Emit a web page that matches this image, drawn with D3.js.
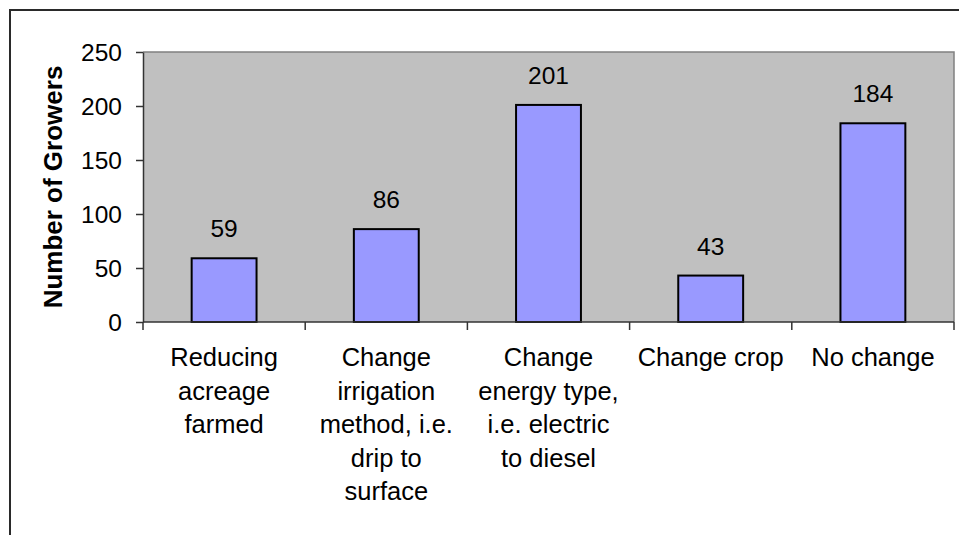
<!DOCTYPE html>
<html>
<head>
<meta charset="utf-8">
<script src="https://cdn.jsdelivr.net/npm/d3@7"></script>
<style>
  html, body { margin: 0; padding: 0; background: #fff; }
  svg { display: block; }
  text { font-family: "Liberation Sans", Arial, sans-serif; fill: #000; }
</style>
</head>
<body>
<svg id="chart" width="959" height="535"></svg>
<script>
// Category labels, already broken into display lines
const categories = [
  ["Reducing", "acreage", "farmed"],
  ["Change", "irrigation", "method, i.e.", "drip to", "surface"],
  ["Change", "energy type,", "i.e. electric", "to diesel"],
  ["Change crop"],
  ["No change"]
];
const growers = [59, 86, 201, 43, 184];
const yTicks = [0, 50, 100, 150, 200, 250];
const yTitle = "Number of Growers";

const svg = d3.select("#chart");

// outer chart frame (runs past the right and bottom edges)
svg.append("rect")
  .attr("x", 10).attr("y", 10)
  .attr("width", 970).attr("height", 560)
  .attr("fill", "#fff").attr("stroke", "#2a2a2a").attr("stroke-width", 2);

const plot = { left: 143, top: 52, right: 954, bottom: 322 };

const x = d3.scaleBand()
  .domain(d3.range(categories.length))
  .range([plot.left, plot.right])
  .paddingInner(0).paddingOuter(0);

const y = d3.scaleLinear().domain([0, 250]).range([plot.bottom, plot.top]);

// plot background
svg.append("rect")
  .attr("x", plot.left).attr("y", plot.top)
  .attr("width", plot.right - plot.left).attr("height", plot.bottom - plot.top)
  .attr("fill", "#c0c0c0");

// top & right border of plot area
svg.append("path")
  .attr("d", `M${plot.left},${plot.top}H${plot.right}V${plot.bottom}`)
  .attr("fill", "none").attr("stroke", "#808080").attr("stroke-width", 1.5);

// bars
const barW = x.bandwidth() * 0.4;
svg.append("g").selectAll("rect")
  .data(growers)
  .join("rect")
  .attr("x", (d, i) => x(i) + (x.bandwidth() - barW) / 2)
  .attr("y", d => y(d))
  .attr("width", barW)
  .attr("height", d => y(0) - y(d))
  .attr("fill", "#9999ff")
  .attr("stroke", "#000")
  .attr("stroke-width", 2);

// value labels
svg.append("g").selectAll("text")
  .data(growers)
  .join("text")
  .attr("x", (d, i) => x(i) + x.bandwidth() / 2)
  .attr("y", d => y(d) - 21)
  .attr("text-anchor", "middle")
  .attr("font-size", 24.5)
  .text(d => d);

// y axis
const yAxis = d3.axisLeft(y).tickValues(yTicks).tickSize(7).tickPadding(14).tickSizeOuter(0);
const gy = svg.append("g").attr("transform", `translate(${plot.left},0)`).call(yAxis);
gy.select(".domain").attr("stroke", "#333").attr("stroke-width", 1.5);
gy.selectAll(".tick line").attr("stroke", "#333").attr("stroke-width", 1.5);
gy.selectAll(".tick text").attr("font-size", 24.5).attr("font-family", "Liberation Sans, Arial, sans-serif").attr("fill", "#000").attr("dy", "0.36em");

// x axis baseline with ticks at category boundaries
const gx = svg.append("g");
gx.append("line")
  .attr("x1", plot.left).attr("x2", plot.right)
  .attr("y1", plot.bottom).attr("y2", plot.bottom)
  .attr("stroke", "#333").attr("stroke-width", 1.5);
gx.selectAll("line.tk")
  .data(d3.range(categories.length + 1))
  .join("line")
  .attr("class", "tk")
  .attr("x1", i => i < categories.length ? x(i) : plot.right)
  .attr("x2", i => i < categories.length ? x(i) : plot.right)
  .attr("y1", plot.bottom).attr("y2", plot.bottom + 8)
  .attr("stroke", "#333").attr("stroke-width", 1.5);

// category labels
const lineH = 33.5;
gx.selectAll("text.cat")
  .data(categories)
  .join("text")
  .attr("class", "cat")
  .attr("text-anchor", "middle")
  .attr("font-size", 25.5)
  .each(function(lines, i) {
    const t = d3.select(this);
    lines.forEach((ln, j) => {
      t.append("tspan")
        .attr("x", x(i) + x.bandwidth() / 2)
        .attr("y", 366 + j * lineH)
        .text(ln);
    });
  });

// y axis title
svg.append("text")
  .attr("transform", `translate(62,${(plot.top + plot.bottom) / 2}) rotate(-90)`)
  .attr("text-anchor", "middle")
  .attr("font-size", 26)
  .attr("font-weight", "bold")
  .text(yTitle);
</script>
</body>
</html>
